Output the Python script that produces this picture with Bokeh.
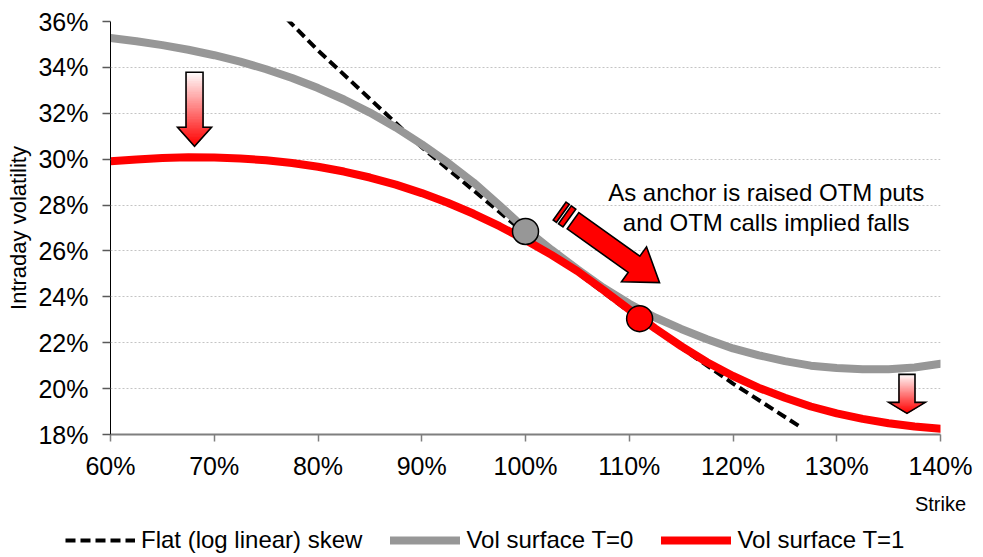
import math
from bokeh.plotting import figure
from bokeh.layouts import column
from bokeh.models import FixedTicker, PrintfTickFormatter, Label, Legend, LegendItem, Range1d
from bokeh.embed import file_html
from bokeh.resources import INLINE

# ---------------- data ----------------
strikes = [60, 62.5, 65, 67.5, 70, 72.5, 75, 77.5, 80, 82.5, 85, 87.5, 90, 92.5, 95, 97.5,
           100, 102.5, 105, 107.5, 110, 112.5, 115, 117.5, 120, 122.5, 125, 127.5, 130,
           132.5, 135, 137.5, 140]
vol_t0 = [35.28, 35.14, 34.97, 34.77, 34.53, 34.25, 33.92, 33.54, 33.10, 32.60, 32.03,
          31.38, 30.65, 29.85, 28.98, 27.98, 26.95, 26.05, 25.20, 24.40, 23.70, 23.10,
          22.60, 22.15, 21.75, 21.45, 21.20, 21.00, 20.90, 20.84, 20.84, 20.92, 21.08]
vol_t1 = [29.91, 29.99, 30.05, 30.08, 30.07, 30.03, 29.95, 29.83, 29.67, 29.46, 29.20,
          28.89, 28.52, 28.10, 27.62, 27.08, 26.48, 25.83, 25.12, 24.30, 23.45, 22.62,
          21.85, 21.15, 20.55, 20.03, 19.60, 19.22, 18.92, 18.68, 18.49, 18.35, 18.25]
flat_strikes = [77, 80, 90, 100, 110, 120, 126.5]
flat_vols = [36.11, 34.74, 30.52, 26.75, 23.34, 20.22, 18.33]
anchor_t0 = (100, 26.85)
anchor_t1 = (111, 23.05)
x_ticks = [60, 70, 80, 90, 100, 110, 120, 130, 140]
y_ticks = [18, 20, 22, 24, 26, 28, 30, 32, 34, 36]
series_names = ["Flat (log linear) skew", "Vol surface T=0", "Vol surface T=1"]
note_lines = ["As anchor is raised OTM puts", "and OTM calls implied falls"]

# ---------------- layout ----------------
X0, X1, Y0, Y1 = 60, 140, 18, 36
FW, FH = 830, 413
FONT = "Liberation Sans"
GRAY = "#979797"
RED = "#ff0000"
MAIN_H = 21 + FH + 85
TOTAL_W = 110 + FW + 43

p = figure(x_range=(X0, X1), y_range=(Y0, Y1),
           output_backend="svg", toolbar_location=None,
           min_border_left=110, min_border_right=43, min_border_top=21, min_border_bottom=85)
p.frame_width = FW
p.frame_height = FH
p.outline_line_color = None
p.background_fill_color = "white"
p.border_fill_color = "white"

SX = FW / (X1 - X0)
SY = FH / (Y1 - Y0)

p.xgrid.grid_line_color = None
p.ygrid.ticker = FixedTicker(ticks=y_ticks)
p.ygrid.grid_line_color = "#c4c4c4"
p.ygrid.grid_line_dash = "2 2"
p.ygrid.grid_line_width = 1

for ax in (p.xaxis[0], p.yaxis[0]):
    ax.major_label_text_font = FONT
    ax.major_label_text_font_size = "25px"
    ax.major_label_text_color = "black"
    ax.minor_tick_line_color = None
    ax.major_tick_in = 0
    ax.formatter = PrintfTickFormatter(format="%d%%")

p.xaxis.ticker = FixedTicker(ticks=x_ticks)
p.yaxis.ticker = FixedTicker(ticks=y_ticks)
p.xaxis.axis_line_color = "#7f7f7f"
p.xaxis.axis_line_width = 2
p.xaxis.major_tick_line_color = "#7f7f7f"
p.xaxis.major_tick_line_width = 1.5
p.xaxis.major_tick_out = 7
p.xaxis.major_label_standoff = 10
p.xaxis.axis_label = "Strike"
p.xaxis.axis_label_text_font = FONT
p.xaxis.axis_label_text_font_size = "20px"
p.xaxis.axis_label_text_font_style = "normal"
p.xaxis.axis_label_text_color = "black"
p.xaxis.axis_label_standoff = 10
if "axis_label_align" in p.xaxis[0].properties():
    p.xaxis.axis_label_align = "end"

p.yaxis.axis_line_color = "black"
p.yaxis.axis_line_width = 1
p.yaxis.major_tick_line_color = "#595959"
p.yaxis.major_tick_line_width = 1.5
p.yaxis.major_tick_out = 8
p.yaxis.major_label_standoff = 14
p.yaxis.axis_label = "Intraday volatility"
p.yaxis.axis_label_text_font = FONT
p.yaxis.axis_label_text_font_size = "22px"
p.yaxis.axis_label_text_font_style = "normal"
p.yaxis.axis_label_text_color = "black"
p.yaxis.axis_label_standoff = 4

# ---------------- series ----------------
flat_style = dict(line_color="black", line_width=4, line_dash="10 5")
t0_style = dict(line_color=GRAY, line_width=8, line_cap="round", line_join="round")
t1_style = dict(line_color=RED, line_width=8, line_cap="round", line_join="round")

p.line(flat_strikes, flat_vols, **flat_style)
p.line(strikes, vol_t0, **t0_style)
p.line(strikes, vol_t1, **t1_style)
p.scatter([anchor_t0[0]], [anchor_t0[1]], size=26, fill_color=GRAY, line_color="black",
          line_width=1.5)
p.scatter([anchor_t1[0]], [anchor_t1[1]], size=26, fill_color=RED, line_color="black",
          line_width=1.5)


# ---------------- arrows (annotations) ----------------
def to_data(ax, ay, pts):
    return [ax + dx / SX for dx, dy in pts], [ay - dy / SY for dx, dy in pts]


def grad_color(t):
    g = int(round(255 * (1 - t)))
    return "#ff%02x%02x" % (g, g)


def down_arrow(tip_x, tip_y, shaft_len, head_len, shaft_hw, head_hw, n_shaft=30, n_head=12):
    total = shaft_len + head_len
    xs, ys, cols = [], [], []
    for i in range(n_shaft):
        a = shaft_len * i / n_shaft
        b = shaft_len * (i + 1) / n_shaft
        pts = [(-shaft_hw, a - total), (shaft_hw, a - total), (shaft_hw, b - total), (-shaft_hw, b - total)]
        x, y = to_data(tip_x, tip_y, pts)
        xs.append(x); ys.append(y); cols.append(grad_color((a + b) / 2 / total))
    for i in range(n_head):
        a = shaft_len + head_len * i / n_head
        b = shaft_len + head_len * (i + 1) / n_head
        wa = head_hw * (total - a) / head_len
        wb = head_hw * (total - b) / head_len
        pts = [(-wa, a - total), (wa, a - total), (wb, b - total), (-wb, b - total)]
        x, y = to_data(tip_x, tip_y, pts)
        xs.append(x); ys.append(y); cols.append(grad_color((a + b) / 2 / total))
    p.patches(xs, ys, fill_color=cols, line_color=cols, line_width=1)
    outline = [(-shaft_hw, -total), (shaft_hw, -total), (shaft_hw, -head_len), (head_hw, -head_len),
               (0, 0), (-head_hw, -head_len), (-shaft_hw, -head_len)]
    x, y = to_data(tip_x, tip_y, outline)
    p.patch(x, y, fill_alpha=0, line_color="black", line_width=1.6, line_join="miter")


down_arrow(68.1, 30.56, 55, 19, 8.5, 17)
down_arrow(136.77, 18.92, 28, 11, 8, 18.3)

# big diagonal arrow
tip_x, tip_y = 112.92, 24.62
theta = math.radians(35.6)
d = (math.cos(theta), math.sin(theta))
nrm = (-math.sin(theta), math.cos(theta))
L = 106.4


def rot(pts):
    return [((s - L) * d[0] + t * nrm[0], (s - L) * d[1] + t * nrm[1]) for s, t in pts]


shaft = [(0, -10), (75, -10), (75, -21.5), (L, 0), (75, 21.5), (75, 10), (0, 10)]
stripes = [[(-16.5, -11), (-12.5, -11), (-12.5, 11), (-16.5, 11)],
           [(-10, -11), (-4.5, -11), (-4.5, 11), (-10, 11)]]
for poly in [shaft] + stripes:
    x, y = to_data(tip_x, tip_y, rot(poly))
    p.patch(x, y, fill_color=RED, line_color="black", line_width=1.6, line_join="miter")

# ---------------- texts ----------------
p.add_layout(Label(x=123.2, y=28.54, text=note_lines[0], text_font=FONT, text_font_size="24px",
                   text_align="center", text_baseline="middle", text_color="black"))
p.add_layout(Label(x=123.2, y=27.24, text=note_lines[1], text_font=FONT, text_font_size="24px",
                   text_align="center", text_baseline="middle", text_color="black"))

# ---------------- legend strip below the chart ----------------
LEG_H = 557 - MAIN_H
pl = figure(width=TOTAL_W, height=LEG_H, x_range=Range1d(0, 1), y_range=Range1d(0, 1),
            output_backend="svg", toolbar_location=None, x_axis_type=None, y_axis_type=None,
            min_border_left=0, min_border_right=0, min_border_top=0, min_border_bottom=0)
pl.outline_line_color = None
pl.xgrid.grid_line_color = None
pl.ygrid.grid_line_color = None
pl.background_fill_color = "white"
pl.border_fill_color = "white"

unaligned = False
if "frame_align" in pl.properties():
    p.frame_align = False
    pl.frame_align = False
    unaligned = True

# legend proxies: the same series, drawn outside this strip's visible range
g_flat = pl.line(flat_strikes, flat_vols, **flat_style)
g_t0 = pl.line(strikes, vol_t0, **t0_style)
g_t1 = pl.line(strikes, vol_t1, **t1_style)

if unaligned:
    leg_loc, leg_glyph_w, leg_spacing = (65, 3), 70, 28
else:
    leg_loc, leg_glyph_w, leg_spacing = (4, 3), 58, 18

legend = Legend(items=[LegendItem(label=series_names[0], renderers=[g_flat]),
                       LegendItem(label=series_names[1], renderers=[g_t0]),
                       LegendItem(label=series_names[2], renderers=[g_t1])],
                orientation="horizontal", location=leg_loc,
                label_text_font=FONT, label_text_font_size="24px", label_text_color="black",
                glyph_width=leg_glyph_w, glyph_height=24, label_height=24, label_standoff=6,
                spacing=leg_spacing, padding=0, margin=0,
                border_line_color=None, background_fill_alpha=0)
pl.add_layout(legend, "center")

layout = column(p, pl, spacing=0)
open("out.html", "w").write(file_html(layout, INLINE))
